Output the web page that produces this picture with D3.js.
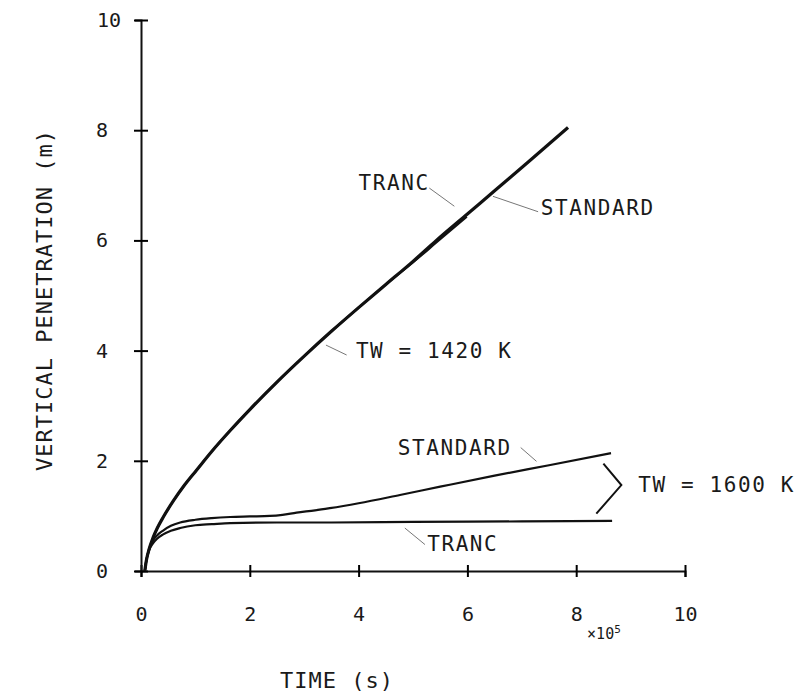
<!DOCTYPE html>
<html>
<head>
<meta charset="utf-8">
<script src="https://cdn.jsdelivr.net/npm/d3@7"></script>
<style>
  body { margin: 0; background: #fff; }
  text { font-family: "DejaVu Sans Mono", "Liberation Mono", monospace; fill: #1a1a1a; }
</style>
</head>
<body>
<script>
// values, time in 1e5 s, penetration in m
const xTicks = [0, 2, 4, 6, 8, 10];
const yTicks = [0, 2, 4, 6, 8, 10];

const std1420X = [0.07, 0.1, 0.15, 0.22, 0.3, 0.41, 0.6, 0.8, 1.02, 1.3, 1.64, 2.0, 2.49, 3.0, 3.5, 4.0, 4.5, 5.0, 5.43, 6.0, 6.5, 7.15, 7.85];
const std1420Y = [0, 0.2, 0.4, 0.6, 0.78, 0.98, 1.28, 1.56, 1.83, 2.17, 2.55, 2.93, 3.42, 3.9, 4.35, 4.78, 5.2, 5.62, 6.0, 6.48, 6.9, 7.45, 8.05];

const tranc1420X = [0.07, 0.1, 0.15, 0.22, 0.3, 0.41, 0.6, 0.8, 1.02, 1.3, 1.64, 2.0, 2.49, 3.0, 3.5, 4.0, 4.5, 5.0, 5.43, 5.99];
const tranc1420Y = [0, 0.2, 0.4, 0.6, 0.78, 0.98, 1.28, 1.56, 1.83, 2.17, 2.55, 2.93, 3.42, 3.9, 4.35, 4.78, 5.2, 5.6, 5.96, 6.43];

const std1600X = [0.07, 0.1, 0.15, 0.22, 0.3, 0.4, 0.55, 0.72, 1.0, 1.3, 1.64, 2.0, 2.37, 2.6, 2.86, 3.2, 3.47, 4.0, 4.76, 5.5, 6.5, 7.5, 8.64];
const std1600Y = [0, 0.2, 0.4, 0.55, 0.65, 0.73, 0.82, 0.88, 0.93, 0.96, 0.98, 0.99, 1.0, 1.02, 1.06, 1.1, 1.14, 1.23, 1.38, 1.53, 1.73, 1.92, 2.14];

const tranc1600X = [0.07, 0.1, 0.15, 0.22, 0.3, 0.4, 0.55, 0.72, 1.0, 1.3, 1.64, 2.5, 3.5, 5.0, 7.0, 8.66];
const tranc1600Y = [0, 0.2, 0.38, 0.5, 0.59, 0.66, 0.73, 0.78, 0.83, 0.85, 0.87, 0.88, 0.88, 0.89, 0.9, 0.91];

// annotations: [label, textX, textY, pointer from (x,y) to (x,y)] in data units
const labels = [
  ["TRANC", 4.0, 7.05, 5.3, 6.95, 5.76, 6.62],
  ["STANDARD", 7.35, 6.6, 6.47, 6.8, 7.3, 6.52],
  ["TW = 1420 K", 3.95, 4.0, 3.4, 4.1, 3.78, 3.92],
  ["STANDARD", 4.72, 2.23, 6.98, 2.24, 7.27, 1.99],
  ["TRANC", 5.26, 0.5, 4.85, 0.78, 5.22, 0.48],
  ["TW = 1600 K", 9.14, 1.56, null, null, null, null]
];
const braceX = [8.5, 8.83, 8.37];
const braceY = [1.95, 1.56, 1.04];

const width = 809, height = 696;
const svg = d3.select("body").append("svg")
  .attr("width", width)
  .attr("height", height);

const x = d3.scaleLinear().domain([0, 10]).range([141, 685]);
const y = d3.scaleLinear().domain([0, 10]).range([571, 20]);

// axes
const xAxis = svg.append("g")
  .attr("transform", "translate(0," + y(0) + ")")
  .call(d3.axisBottom(x).tickValues(xTicks).tickSize(6).tickPadding(30).tickFormat(d3.format("d")));
xAxis.select(".domain").attr("stroke", "#111").attr("stroke-width", 2);
xAxis.selectAll(".tick line").attr("y1", -6).attr("y2", 6).attr("stroke-width", 2);
xAxis.selectAll(".tick text").attr("font-size", 20).attr("font-family", "DejaVu Sans Mono");

const yAxis = svg.append("g")
  .attr("transform", "translate(" + x(0) + ",0)")
  .call(d3.axisLeft(y).tickValues(yTicks).tickSize(6).tickFormat(d3.format("d")));
yAxis.select(".domain").attr("stroke", "#111").attr("stroke-width", 2);
yAxis.selectAll(".tick line").attr("x1", -7).attr("x2", 7).attr("stroke-width", 2);
yAxis.selectAll(".tick text")
  .attr("font-size", 20)
  .attr("font-family", "DejaVu Sans Mono")
  .attr("x", d => d === 10 ? -20 : -33);

svg.append("text")
  .attr("x", x(8.2)).attr("y", 639)
  .attr("font-size", 15)
  .html("×10<tspan dy='-6' font-size='11'>5</tspan>");

svg.append("text")
  .attr("x", 337).attr("y", 688)
  .attr("text-anchor", "middle")
  .attr("font-size", 22)
  .attr("letter-spacing", 1)
  .text("TIME (s)");

svg.append("text")
  .attr("transform", "translate(52,300) rotate(-90)")
  .attr("text-anchor", "middle")
  .attr("font-size", 22)
  .attr("letter-spacing", 1)
  .text("VERTICAL PENETRATION (m)");

// curves
const line = d3.line()
  .x(d => x(d[0]))
  .y(d => y(d[1]))
  .curve(d3.curveMonotoneX);

function drawSeries(xs, ys, w) {
  svg.append("path")
    .datum(xs.map((v, i) => [v, ys[i]]))
    .attr("fill", "none")
    .attr("stroke", "#111")
    .attr("stroke-width", w)
    .attr("d", line);
}
drawSeries(std1420X, std1420Y, 3.2);
drawSeries(tranc1420X, tranc1420Y, 2);
drawSeries(std1600X, std1600Y, 2.2);
drawSeries(tranc1600X, tranc1600Y, 2.2);

// brace for the 1600 K pair
svg.append("path")
  .datum(braceX.map((v, i) => [v, braceY[i]]))
  .attr("fill", "none")
  .attr("stroke", "#111")
  .attr("stroke-width", 2)
  .attr("d", d3.line().x(d => x(d[0])).y(d => y(d[1])));

// labels with their leader lines
labels.forEach(l => {
  svg.append("text")
    .attr("x", x(l[1])).attr("y", y(l[2]))
    .attr("dy", "0.35em")
    .attr("font-size", 21)
    .attr("letter-spacing", 1.6)
    .text(l[0]);
  if (l[3] !== null) {
    svg.append("line")
      .attr("x1", x(l[3])).attr("y1", y(l[4]))
      .attr("x2", x(l[5])).attr("y2", y(l[6]))
      .attr("stroke", "#777")
      .attr("stroke-width", 1);
  }
});
</script>
</body>
</html>
